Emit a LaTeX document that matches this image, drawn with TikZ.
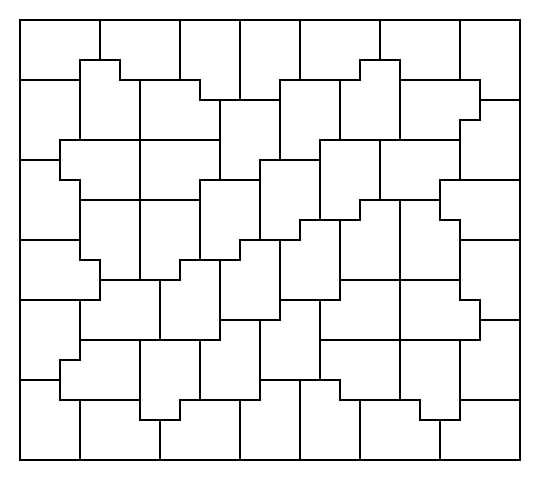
\documentclass[tikz,border=0pt]{standalone}
\begin{document}
\begin{tikzpicture}[x=1pt,y=-1pt,tile/.style={line width=1.6pt,line cap=rect,black}]
\useasboundingbox (0,0) rectangle (540,480);
% outer border
\draw[tile,line join=miter] (20,20) rectangle (520,460);
% horizontal edges: y / x1 / x2
\foreach \y/\a/\b in {
60/80/120, 60/360/400,
80/20/80, 80/120/200, 80/280/360, 80/400/480,
100/200/280, 100/480/520,
120/460/480,
140/60/220, 140/320/460,
160/20/60, 160/260/320,
180/60/80, 180/200/260, 180/440/520,
200/80/200, 200/360/440,
220/300/360, 220/440/460,
240/20/80, 240/240/300, 240/460/520,
260/80/100, 260/180/240,
280/100/180, 280/340/460,
300/20/100, 300/280/340, 300/460/480,
320/220/280, 320/480/520,
340/80/220, 340/320/480,
360/60/80,
380/20/60, 380/260/340,
400/60/140, 400/180/260, 400/340/420, 400/460/520,
420/140/180, 420/420/460}
  \draw[tile] (\a,\y) -- (\b,\y);
% vertical edges: x / y1 / y2
\foreach \x/\a/\b in {
60/140/180, 60/360/400,
80/60/140, 80/180/260, 80/300/360, 80/400/460,
100/20/60, 100/260/300,
120/60/80,
140/80/280, 140/340/420,
160/280/340, 160/420/460,
180/20/80, 180/260/280, 180/400/420,
200/80/100, 200/180/260, 200/340/400,
220/100/180, 220/260/340,
240/20/100, 240/240/260, 240/400/460,
260/160/240, 260/320/400,
280/80/160, 280/240/320,
300/20/80, 300/220/240, 300/380/460,
320/140/220, 320/300/380,
340/80/140, 340/220/300, 340/380/400,
360/60/80, 360/200/220, 360/400/460,
380/20/60, 380/140/200,
400/60/140, 400/200/400,
420/400/420,
440/180/220, 440/420/460,
460/20/80, 460/120/180, 460/220/300, 460/340/420,
480/80/120, 480/300/340}
  \draw[tile] (\x,\a) -- (\x,\b);
\end{tikzpicture}
\end{document}
